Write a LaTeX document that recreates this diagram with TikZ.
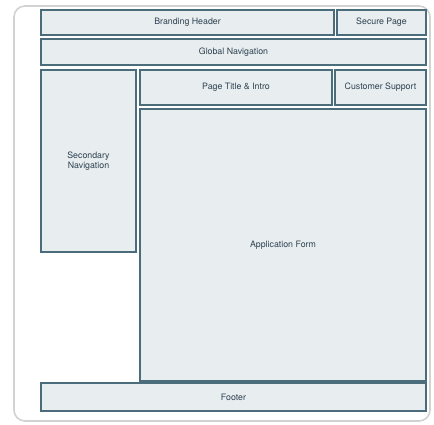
\documentclass[tikz,border=0pt]{standalone}
\usepackage{fontspec}
\setmainfont{TeX Gyre Heros}
\usepackage{xcolor}
\usepackage{tikz}
\usetikzlibrary{positioning,backgrounds}

\definecolor{boxline}{HTML}{4B6C7A}
\definecolor{boxfill}{HTML}{E8EDF0}
\definecolor{boxtext}{HTML}{2E4250}
\definecolor{frameline}{HTML}{D2D2D2}

\begin{document}
\begin{tikzpicture}[
  x=1pt, y=-1pt,
  box/.style={draw=boxline,fill=boxfill,line width=1.3pt,outer sep=0pt,inner sep=1pt,
    align=center,text=boxtext,font=\fontsize{8.8}{10}\selectfont,anchor=north west},
  frame/.style={draw=frameline,line width=1.6pt,rounded corners=11pt}
]
\useasboundingbox (0,0) rectangle (434,424);
\node[box,minimum width=293pt,minimum height=25pt] (brand) at (41,10) {Branding Header};
\node[box,minimum width=89pt,minimum height=25pt,right=3pt of brand.north east,anchor=north west] (secure) {Secure Page};
\node[box,minimum width=385pt,minimum height=26pt,below=4pt of brand.south west,anchor=north west] (gnav) {Global Navigation};
\node[box,minimum width=95pt,minimum height=182pt,below=5pt of gnav.south west,anchor=north west] (secnav) {Secondary\\Navigation};
\node[box,minimum width=192pt,minimum height=35pt,right=4pt of secnav.north east,anchor=north west] (title) {Page Title \& Intro};
\node[box,minimum width=91pt,minimum height=35pt,right=3pt of title.north east,anchor=north west] (support) {Customer Support};
\node[box,minimum width=286pt,minimum height=272pt,below=4pt of title.south west,anchor=north west] (form) {Application Form};
\node[box,minimum width=385pt,minimum height=28pt,below=2pt of form.south east,anchor=north east] (footer) {Footer};
\begin{scope}[on background layer]
\draw[frame] (14,6) rectangle (430,421);
\end{scope}
\end{tikzpicture}
\end{document}
